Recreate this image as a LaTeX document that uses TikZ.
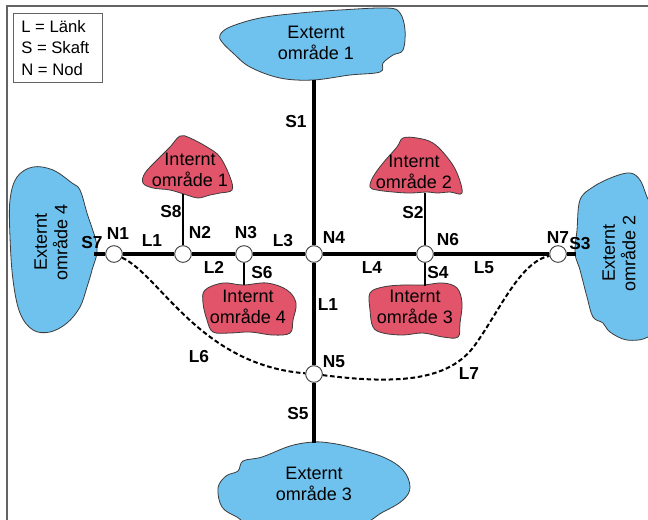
\documentclass[tikz,border=0pt]{standalone}
\usepackage{fontspec}
\setmainfont{Liberation Sans}
\definecolor{extblue}{RGB}{112,194,238}
\definecolor{intred}{RGB}{226,84,106}
\definecolor{outl}{RGB}{60,60,60}
\definecolor{framegray}{RGB}{100,100,100}
\begin{document}
\begin{tikzpicture}[x=0.75pt,y=-0.75pt,
  lab/.style={font=\fontsize{13}{15}\selectfont\bfseries, inner sep=0pt},
  area/.style={font=\fontsize{13.5}{15.5}\selectfont, align=center, inner sep=0pt},
  ext/.style={fill=extblue, draw=outl, line width=0.6pt},
  int/.style={fill=intred, draw=outl, line width=0.6pt},
  knut/.style={circle, draw=outl, fill=white, line width=0.7pt, minimum size=12.5pt, inner sep=0pt},
  mainline/.style={line width=3pt, black},
  shaft/.style={line width=1.2pt, black},
  dashlink/.style={line width=1.5pt, dash pattern=on 3.5pt off 2pt},
]
\useasboundingbox (0,0) rectangle (648,519);
\clip (0,0) rectangle (648,519);
\fill[white] (0,0) rectangle (648,519);
% frame
\draw[framegray, line width=1.2pt] (7,530) -- (7,6) -- (660,6);
% legend
\node[draw=framegray, line width=0.8pt, rectangle, minimum width=66.75pt, minimum height=51.75pt, anchor=north west, inner sep=0pt] (legbox) at (13,13) {};
\node[anchor=west, align=left, font=\fontsize{12.5}{16}\selectfont, inner sep=0pt] (legtext) at (21,48) {L = Länk\\S = Skaft\\N = Nod};

% external areas
\draw[ext] plot[smooth cycle, tension=0.6] coordinates {(220,35) (230,27) (260,18) (300,13) (340,10) (387,8) (400,13) (405,30) (403,50) (393,55) (383,63) (380,72) (350,75) (313,80) (280,78) (250,67) (233,53) (222,42)};
\draw[ext] plot[smooth cycle, tension=0.6] coordinates {(33,167) (53,170) (72,183) (80,190) (87,213) (97,247) (92,270) (87,287) (80,307) (67,323) (50,332) (33,330) (20,313) (13,280) (10,237) (10,200) (17,177)};
\draw[ext] plot[smooth cycle, tension=0.6] coordinates {(580,200) (593,187) (613,177) (630,173) (640,180) (647,197) (660,230) (660,320) (648,337) (627,340) (610,332) (603,323) (593,317) (587,297) (580,270) (575,253) (577,230)};
\draw[ext] plot[smooth cycle, tension=0.6] coordinates {(313,442) (290,446) (262,457) (243,461) (238,471) (226,476) (218,488) (222,507) (237,517) (260,527) (350,527) (383,512) (403,500) (410,487) (403,470) (383,457) (350,447) (330,443)};

% internal areas
\draw[int] plot[smooth cycle, tension=0.6] coordinates {(180,136) (190,138) (207,147) (220,157) (230,177) (232,190) (220,193) (210,195) (198,198) (187,195) (170,190) (153,188) (143,183) (145,173) (157,160) (170,147)};
\draw[int] plot[smooth cycle, tension=0.6] coordinates {(403,138) (417,138) (433,143) (447,157) (457,173) (462,193) (450,192) (437,193) (427,192) (410,193) (393,192) (377,190) (370,187) (373,177) (383,163) (397,147)};
\draw[int] plot[smooth cycle, tension=0.6] coordinates {(205,290) (223,283) (243,285) (267,283) (287,290) (296,303) (293,320) (290,333) (273,335) (250,332) (230,333) (213,332) (207,320) (203,303)};
\draw[int] plot[smooth cycle, tension=0.6] coordinates {(370,293) (383,287) (403,285) (423,285) (443,283) (457,288) (462,303) (460,323) (458,337) (443,337) (423,333) (403,335) (383,333) (373,327) (370,310)};

% area texts
\node[area] (e1) at (316,43) {Externt\\område 1};
\node[area] (e3) at (314,484) {Externt\\område 3};
\node[area, rotate=90] (e4) at (51,242) {Externt\\område 4};
\node[area, rotate=90] (e2) at (619,253) {Externt\\område 2};
\node[area] (i1) at (190,170) {Internt\\område 1};
\node[area] (i2) at (414,172) {Internt\\område 2};
\node[area] (i4) at (248,307) {Internt\\område 4};
\node[area] (i3) at (415,307) {Internt\\område 3};

% knots
\node[knut] (N1) at (114,254) {};
\node[knut] (N2) at (183,254) {};
\node[knut] (N3) at (244,254) {};
\node[knut] (N4) at (314,254) {};
\node[knut] (N5) at (314,374) {};
\node[knut] (N6) at (425,254) {};
\node[knut] (N7) at (558,254) {};

% connector end points
\coordinate (s7) at (94,254);
\coordinate (s3) at (576,254);
\coordinate (s1) at (314,80);
\coordinate (s5) at (314,443);
\coordinate (i1b) at (183,194);
\coordinate (i4t) at (244,285);
\coordinate (i2b) at (425,193);
\coordinate (i3t) at (425,286);

% links and shafts
\draw[mainline] (s7) -- (N1);
\draw[mainline] (N1) -- (N2);
\draw[mainline] (N2) -- (N3);
\draw[mainline] (N3) -- (N4);
\draw[mainline] (N4) -- (N6);
\draw[mainline] (N6) -- (N7);
\draw[mainline] (N7) -- (s3);
\draw[mainline] (s1) -- (N4);
\draw[mainline] (N4) -- (N5);
\draw[mainline] (N5) -- (s5);
\draw[shaft] (N2) -- (i1b);
\draw[shaft] (N3) -- (i4t);
\draw[shaft] (N6) -- (i2b);
\draw[shaft] (N6) -- (i3t);
\draw[dashlink] (N1) .. controls (160,275) and (200,365) .. (N5);
\draw[dashlink] (N5) .. controls (400,385) and (450,380) .. (475,345) .. controls (500,310) and (520,262) .. (N7);

% labels
\node[lab] (lS1) at (296,122) {S1};
\node[lab] (lS8) at (171,212) {S8};
\node[lab] (lN1) at (118,234) {N1};
\node[lab] (lS7) at (92,243) {S7};
\node[lab] (lL1a) at (152,241) {L1};
\node[lab] (lN2) at (200,232) {N2};
\node[lab] (lN3) at (246,233) {N3};
\node[lab] (lL3) at (283,241) {L3};
\node[lab] (lN4) at (334,238) {N4};
\node[lab] (lL2) at (214,267) {L2};
\node[lab] (lS6) at (262,273) {S6};
\node[lab] (lL1b) at (328,305) {L1};
\node[lab] (lS2) at (413,213) {S2};
\node[lab] (lN6) at (448,240) {N6};
\node[lab] (lL4) at (372,268) {L4};
\node[lab] (lS4) at (438,273) {S4};
\node[lab] (lL5) at (484,268) {L5};
\node[lab] (lN7) at (558,238) {N7};
\node[lab] (lS3) at (580,244) {S3};
\node[lab] (lL6) at (199,357) {L6};
\node[lab] (lN5) at (334,362) {N5};
\node[lab] (lL7) at (469,374) {L7};
\node[lab] (lS5) at (298,414) {S5};
\end{tikzpicture}
\end{document}
